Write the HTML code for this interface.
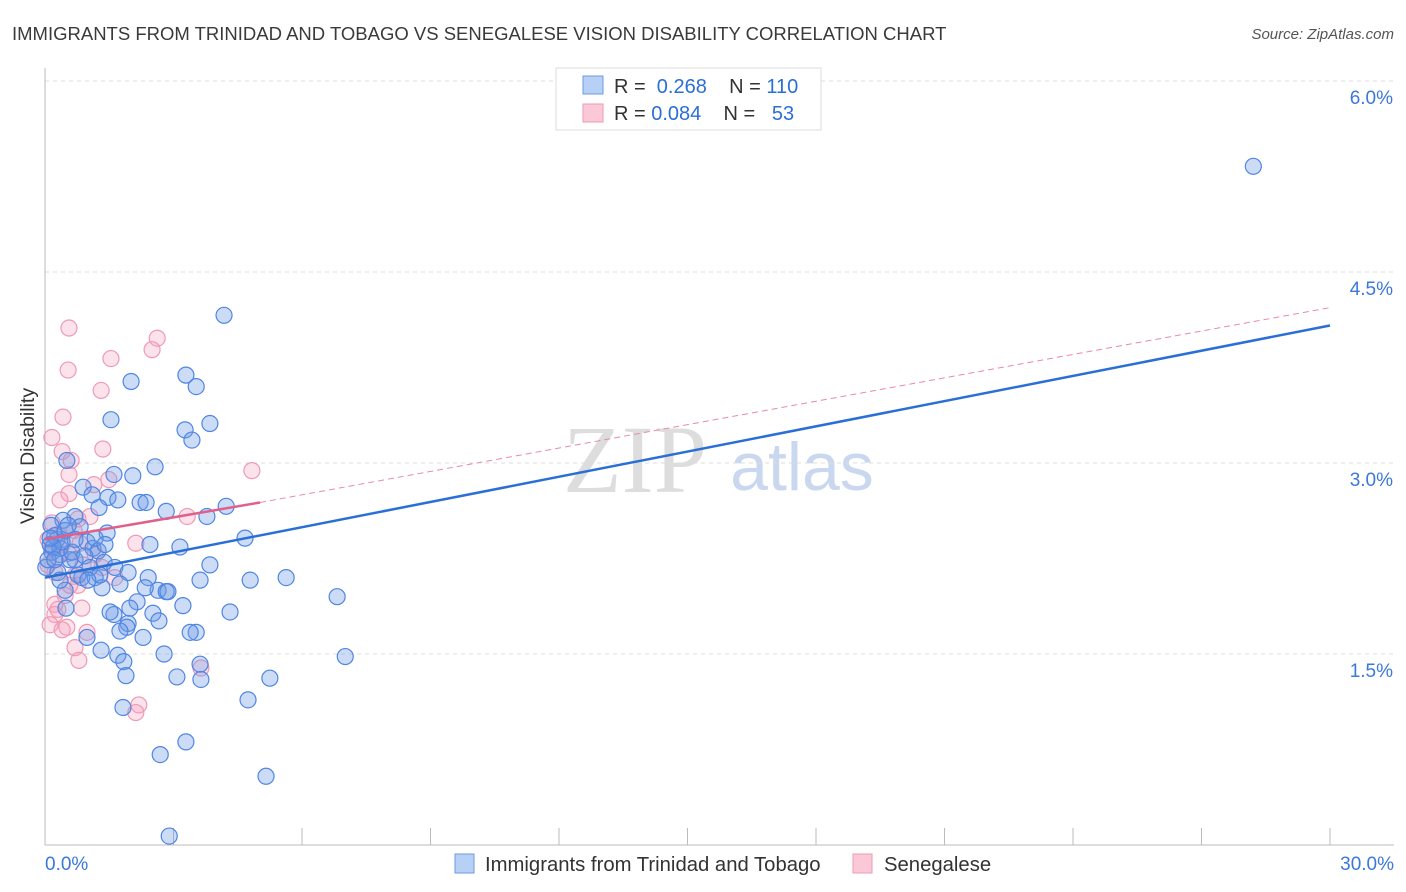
<!DOCTYPE html>
<html><head><meta charset="utf-8"><style>
body{margin:0;background:#fff;font-family:"Liberation Sans",sans-serif;}
#wrap{position:relative;width:1406px;height:892px;overflow:hidden;}
</style></head><body>
<div id="wrap">
<svg id="svg" width="1406" height="892" xmlns="http://www.w3.org/2000/svg">
<text x="12" y="40" font-size="18.5" fill="#3a3a3a">IMMIGRANTS FROM TRINIDAD AND TOBAGO VS SENEGALESE VISION DISABILITY CORRELATION CHART</text>
<text x="1394" y="39" font-size="15" fill="#555" font-style="italic" text-anchor="end">Source: ZipAtlas.com</text>
<text x="635" y="492" font-size="96" fill="#ddd" font-family="Liberation Serif,serif" text-anchor="middle">ZIP</text>
<text x="802" y="490" font-size="68" fill="#c9d8ef" text-anchor="middle">atlas</text>
<g id="grid"></g>
<g id="axes"></g>
<g id="pts"></g>
<g id="trend"></g>
<text transform="translate(34,456) rotate(-90)" font-size="19.5" fill="#333" text-anchor="middle">Vision Disability</text>
<g>
<rect x="556" y="68" width="265" height="62" fill="#fff" stroke="#ddd"/>
<rect x="583" y="76" width="20" height="18" fill="#b7d0f5" stroke="#6f9be0"/>
<rect x="583" y="104" width="20" height="18" fill="#fbc8d8" stroke="#ef9ab5"/>
<text x="614" y="93" font-size="20" fill="#333">R = <tspan fill="#2a6fd6">&#160;0.268</tspan>&#160;&#160;&#160; N = <tspan fill="#2a6fd6">110</tspan></text>
<text x="614" y="120" font-size="20" fill="#333">R = <tspan fill="#2a6fd6">0.084</tspan>&#160;&#160;&#160; N = <tspan fill="#2a6fd6">&#160;&#160;53</tspan></text>
</g>
<rect x="455" y="854" width="19" height="19" fill="#b7d0f5" stroke="#6f9be0"/>
<text x="485" y="871" font-size="20.3" fill="#333">Immigrants from Trinidad and Tobago</text>
<rect x="853" y="854" width="19" height="19" fill="#fbc8d8" stroke="#ef9ab5"/>
<text x="884" y="871" font-size="20.3" fill="#333">Senegalese</text>
</svg>
</div>
<script>
const blueX=[28.21,4.18,2.01,3.29,3.53,1.54,3.85,3.27,3.43,0.51,2.57,1.61,2.05,0.89,1.10,1.47,1.70,2.22,2.36,4.23,1.26,2.83,3.78,0.70,0.42,0.14,0.82,1.45,4.67,0.28,0.98,1.12,3.15,1.24,0.16,0.35,0.70,1.38,3.85,1.63,0.02,1.94,0.86,2.41,1.17,4.79,5.63,1.75,1.33,2.64,2.83,2.87,2.15,6.82,3.22,2.52,4.32,1.61,1.94,2.66,1.91,1.75,3.53,3.39,0.98,2.29,1.31,2.78,1.70,7.01,1.84,3.62,1.89,3.08,3.64,5.25,4.74,1.82,3.29,2.69,5.16,2.90,0.12,0.23,0.35,0.47,0.58,0.07,0.30,0.63,0.93,0.40,0.19,1.17,0.77,1.05,0.12,0.49,1.52,1.28,1.98,2.34,2.45,1.40,0.47,3.62,0.23,0.70,1.00,0.54,0.35];
const blueY=[5.33,4.16,3.64,3.69,3.60,3.34,3.31,3.26,3.18,3.02,2.97,2.91,2.90,2.81,2.75,2.73,2.71,2.69,2.69,2.66,2.65,2.62,2.58,2.58,2.55,2.51,2.50,2.45,2.41,2.40,2.38,2.33,2.34,2.31,2.30,2.28,2.24,2.22,2.20,2.18,2.18,2.14,2.10,2.10,2.10,2.08,2.10,2.05,2.02,2.00,1.99,1.99,1.91,1.95,1.88,1.82,1.83,1.81,1.74,1.76,1.71,1.68,1.67,1.67,1.63,1.63,1.53,1.50,1.49,1.48,1.44,1.42,1.33,1.32,1.30,1.31,1.14,1.08,0.81,0.71,0.54,0.07,2.36,2.43,2.33,2.47,2.24,2.24,2.14,2.30,2.27,2.38,2.34,2.41,2.12,2.18,2.41,1.86,1.83,2.12,1.86,2.02,2.36,2.36,2.00,2.08,2.24,2.40,2.08,2.51,2.08];
const pinkX=[0.56,2.62,2.50,1.54,0.54,1.31,0.42,0.16,1.35,0.40,0.61,0.56,4.83,1.49,1.14,0.56,0.35,1.05,3.32,0.77,0.16,0.68,0.30,0.07,0.82,2.12,0.16,0.54,0.30,0.89,1.33,0.68,0.77,1.63,0.47,0.23,0.86,0.23,0.12,0.51,0.98,0.40,0.70,0.79,3.64,2.19,2.12,0.07,0.23,0.40,0.58,1.17,0.30];
const pinkY=[4.06,3.98,3.89,3.82,3.73,3.57,3.36,3.20,3.11,3.09,3.02,2.91,2.94,2.87,2.83,2.76,2.71,2.58,2.58,2.56,2.53,2.47,2.44,2.40,2.37,2.37,2.33,2.29,2.26,2.20,2.18,2.11,2.04,2.10,1.96,1.89,1.86,1.81,1.73,1.71,1.67,1.69,1.55,1.45,1.39,1.10,1.04,2.20,2.14,2.36,2.04,2.28,1.85];
const blueTrendX=[0,30],blueTrendY=[2.10,4.08];
const pinkSolidX=[0,5.02],pinkSolidY=[2.40,2.69];
const pinkDashX=[5.02,30],pinkDashY=[2.69,4.22];
const yTicks=[1.5,3.0,4.5,6.0],yTickLabels=["1.5%","3.0%","4.5%","6.0%"];
const xTicks=[0,3,6,9,12,15,18,21,24,27,30];
const NS="http://www.w3.org/2000/svg";
const sx=v=>45+v*(1285/30), sy=v=>845-v*(191/1.5);
function mk(tag,attrs,parent){const e=document.createElementNS(NS,tag);for(const k in attrs)e.setAttribute(k,attrs[k]);parent.appendChild(e);return e;}
const grid=document.getElementById('grid'),axes=document.getElementById('axes'),pts=document.getElementById('pts'),tr=document.getElementById('trend');
yTicks.forEach((t,i)=>{const l=mk('line',{x1:45,x2:1394,y1:sy(t),y2:sy(t),stroke:'#ddd','stroke-dasharray':'4,4'},grid);


const tx=mk('text',{x:1393,y:sy(t)+23,'font-size':19,fill:'#3b78d8','text-anchor':'end'},grid);tx.textContent=yTickLabels[i];

});
const xa=mk('line',{x1:45,x2:1394,y1:845,y2:845,stroke:'#bbb'},axes);


const ya=mk('line',{x1:45,x2:45,y1:68,y2:845,stroke:'#bbb'},axes);


xTicks.forEach(t=>{const l=mk('line',{x1:sx(t),x2:sx(t),y1:828,y2:845,stroke:'#bbb'},axes);

});
const x0=mk('text',{x:45,y:870,'font-size':19,fill:'#3b78d8'},axes);x0.textContent='0.0%';


const x1=mk('text',{x:1394,y:870,'font-size':19,fill:'#3b78d8','text-anchor':'end'},axes);x1.textContent='30.0%';


pinkX.forEach((x,i)=>{const c=mk('circle',{cx:sx(x),cy:sy(pinkY[i]),r:8,fill:'rgba(245,160,190,0.3)',stroke:'#ef9ab5','stroke-width':1.2},pts);

});
blueX.forEach((x,i)=>{const c=mk('circle',{cx:sx(x),cy:sy(blueY[i]),r:8,fill:'rgba(110,155,230,0.35)',stroke:'#4f86e3','stroke-width':1.2},pts);

});
const pd=mk('line',{x1:sx(pinkDashX[0]),y1:sy(pinkDashY[0]),x2:sx(pinkDashX[1]),y2:sy(pinkDashY[1]),stroke:'#e88aa8','stroke-width':1,'stroke-dasharray':'6,4'},tr);


const bt=mk('line',{x1:sx(blueTrendX[0]),y1:sy(blueTrendY[0]),x2:sx(blueTrendX[1]),y2:sy(blueTrendY[1]),stroke:'#2a6fd6','stroke-width':2.5},tr);


const ps=mk('line',{x1:sx(pinkSolidX[0]),y1:sy(pinkSolidY[0]),x2:sx(pinkSolidX[1]),y2:sy(pinkSolidY[1]),stroke:'#e0608a','stroke-width':2.5},tr);


</script>
</body></html>
